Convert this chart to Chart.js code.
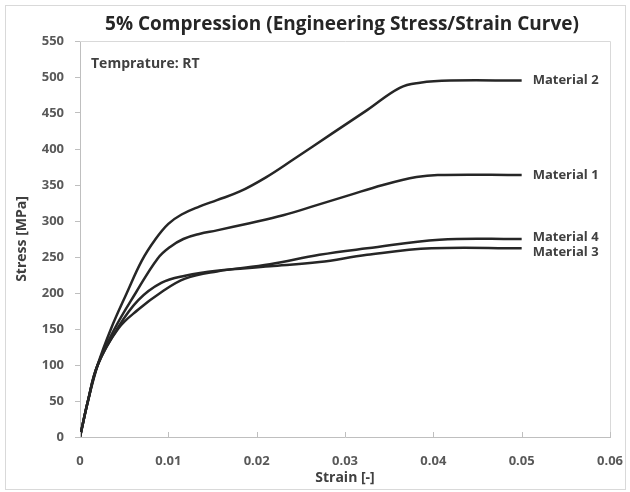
<!DOCTYPE html>
<html>
<head>
<meta charset="utf-8">
<script src="https://cdn.jsdelivr.net/npm/chart.js@4"></script>
<style>
  body { margin: 0; background: #fff; }
  #wrap { position: relative; width: 630px; height: 492px; }
</style>
</head>
<body>
<div id="wrap"><canvas id="chart" width="630" height="492"></canvas></div>
<script>
const titleText = "5% Compression (Engineering Stress/Strain Curve)";
const noteText = "Temprature: RT";
const names = ["Material 1", "Material 2", "Material 3", "Material 4"];

// strain [-] / stress [MPa]
const strain1 = [0, 0.0009, 0.002, 0.0039, 0.0063, 0.0088, 0.0102, 0.0117, 0.0135, 0.0155, 0.0192, 0.023, 0.0268, 0.0305, 0.0343, 0.0381, 0.0405, 0.05];
const stress1 = [0, 50, 100, 150, 200, 248, 264, 275, 282, 287, 297, 308, 322, 336, 350, 361, 364, 364];

const strain2 = [0, 0.0009, 0.002, 0.0035, 0.0053, 0.007, 0.0085, 0.01, 0.0115, 0.0135, 0.0155, 0.0181, 0.0211, 0.0241, 0.0286, 0.0325, 0.0362, 0.0385, 0.0419, 0.05];
const stress2 = [0, 50, 100, 150, 200, 245, 274, 296, 309, 320, 329, 341, 361, 385, 422, 454, 485, 492, 495, 495];

const strain3 = [0, 0.0009, 0.002, 0.0042, 0.0066, 0.0092, 0.0119, 0.0155, 0.0215, 0.0271, 0.0325, 0.0398, 0.05];
const stress3 = [0, 50, 100, 150, 190, 214, 224, 231, 237, 243, 253, 262, 262];

const strain4 = [0, 0.0009, 0.002, 0.0043, 0.0066, 0.0092, 0.0119, 0.0155, 0.0215, 0.0271, 0.0325, 0.0407, 0.05];
const stress4 = [0, 50, 100, 150, 177, 201, 220, 230, 240, 253, 262, 274, 275];

const labelShift = [0, 0, 4, -2];

function toPoints(xs, ys) {
    return xs.map((x, i) => ({ x: x, y: ys[i] }));
}

const series = [
    toPoints(strain1, stress1),
    toPoints(strain2, stress2),
    toPoints(strain3, stress3),
    toPoints(strain4, stress4)
];

const textColor = "#404040";
const axisColor = "#bfbfbf";
const frameColor = "#d9d9d9";

// title, note, end labels, frame and inside x ticks
const extras = {
    id: "extras",
    beforeDraw(chart) {
        const ctx = chart.ctx;
        ctx.save();
        ctx.strokeStyle = frameColor;
        ctx.lineWidth = 1;
        ctx.strokeRect(5.5, 5.5, 620, 484);
        ctx.restore();
    },
    afterDatasetsDraw(chart) {
        const ctx = chart.ctx;
        const a = chart.chartArea;
        const xs = chart.scales.x;
        ctx.save();

        ctx.strokeStyle = frameColor;
        ctx.lineWidth = 1;
        ctx.beginPath();
        ctx.moveTo(a.left, a.top + 0.5);
        ctx.lineTo(a.right + 0.5, a.top + 0.5);
        ctx.lineTo(a.right + 0.5, a.bottom);
        ctx.stroke();

        ctx.strokeStyle = axisColor;
        ctx.beginPath();
        xs.ticks.forEach(t => {
            const px = Math.round(xs.getPixelForValue(t.value)) + 0.5;
            ctx.moveTo(px, a.bottom);
            ctx.lineTo(px, a.bottom - 5);
        });
        ctx.stroke();

        ctx.fillStyle = "#262626";
        ctx.font = "bold 19px 'Open Sans'";
        ctx.textAlign = "center";
        ctx.textBaseline = "middle";
        ctx.fillText(titleText, 342, 25);

        ctx.fillStyle = textColor;
        ctx.font = "bold 14px 'Open Sans'";
        ctx.textAlign = "left";
        ctx.fillText(noteText, 91, 64);

        ctx.font = "bold 13px 'Open Sans'";
        chart.data.datasets.forEach((ds, i) => {
            const meta = chart.getDatasetMeta(i);
            const last = meta.data[meta.data.length - 1];
            ctx.fillText(names[i], last.x + 11, last.y + labelShift[i]);
        });
        ctx.restore();
    }
};

new Chart(document.getElementById("chart"), {
    type: "scatter",
    data: {
        datasets: series.map((pts, i) => ({
            label: names[i],
            data: pts,
            showLine: true,
            borderColor: "#262626",
            borderWidth: 2.5,
            pointRadius: 0,
            tension: 0.4,
            fill: false
        }))
    },
    options: {
        responsive: false,
        animation: false,
        layout: { padding: { top: 41, right: 20, left: 0, bottom: 0 } },
        plugins: {
            legend: { display: false },
            tooltip: { enabled: false },
            title: { display: false }
        },
        scales: {
            x: {
                type: "linear",
                min: 0,
                max: 0.06,
                afterFit: s => { s.height = 55; s.paddingLeft = 0; s.paddingRight = 0; },
                ticks: {
                    stepSize: 0.01,
                    color: "#595959",
                    font: { family: "Open Sans", size: 13, weight: "bold" },
                    padding: 16,
                    maxRotation: 0,
                    callback: v => v === 0 ? "0" : v.toFixed(2)
                },
                grid: { display: false, drawTicks: false },
                border: { display: true, color: axisColor },
                title: {
                    display: true,
                    text: "Strain [-]",
                    color: textColor,
                    font: { family: "Open Sans", size: 14, weight: "bold" },
                    padding: { top: 0, bottom: 6 }
                }
            },
            y: {
                min: 0,
                max: 550,
                afterFit: s => { s.width = 80; },
                ticks: {
                    stepSize: 50,
                    color: "#595959",
                    font: { family: "Open Sans", size: 13, weight: "bold" },
                    padding: 11
                },
                grid: { display: true, drawOnChartArea: false, drawTicks: true, tickLength: 5, color: axisColor },
                border: { display: true, color: axisColor },
                title: {
                    display: true,
                    text: "Stress [MPa]",
                    color: textColor,
                    font: { family: "Open Sans", size: 14, weight: "bold" },
                    padding: { top: 14, bottom: 0 }
                }
            }
        }
    },
    plugins: [extras]
});
</script>
</body>
</html>
